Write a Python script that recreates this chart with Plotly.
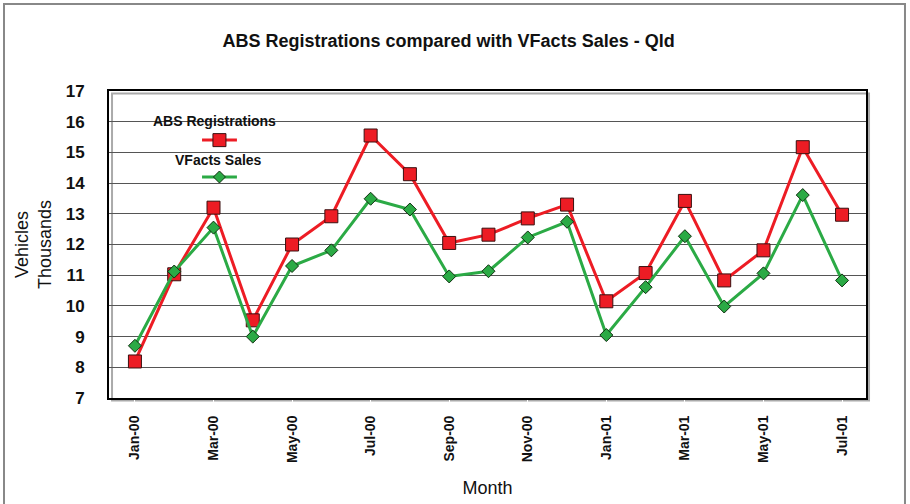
import plotly.graph_objects as go

months = ["Jan-00", "Feb-00", "Mar-00", "Apr-00", "May-00", "Jun-00", "Jul-00", "Aug-00", "Sep-00",
          "Oct-00", "Nov-00", "Dec-00", "Jan-01", "Feb-01", "Mar-01", "Apr-01", "May-01", "Jun-01", "Jul-01"]
abs_reg = [8.19, 11.03, 13.2, 9.53, 12.0, 12.92, 15.55, 14.29, 12.05, 12.32,
           12.85, 13.3, 10.15, 11.07, 13.42, 10.83, 11.81, 15.17, 12.97]
vfacts = [8.70, 11.12, 12.55, 9.0, 11.3, 11.81, 13.49, 13.14, 10.96, 11.13,
          12.23, 12.74, 9.05, 10.61, 12.27, 9.98, 11.06, 13.61, 10.83]
tick_labels = months[::2]
y_ticks = list(range(7, 18))

RED = "#ED1C24"
GREEN = "#2BAA45"
FONT = "Liberation Sans, Arial, sans-serif"

fig = go.Figure()
fig.add_trace(go.Scatter(x=months, y=abs_reg, mode="lines+markers", name="ABS Registrations",
                         line=dict(color=RED, width=3),
                         marker=dict(symbol="square", size=13, color=RED, line=dict(color="#3a1010", width=1))))
fig.add_trace(go.Scatter(x=months, y=vfacts, mode="lines+markers", name="VFacts Sales",
                         line=dict(color=GREEN, width=3),
                         marker=dict(symbol="diamond", size=10, color=GREEN, line=dict(color="#103010", width=1))))

shapes = []
# outer chart frame
shapes.append(dict(type="rect", xref="paper", yref="paper", x0=-0.1387, x1=1.0515, y0=-0.37, y1=1.283,
                   line=dict(color="#888888", width=2), layer="below"))
# plot area shadow
shapes.append(dict(type="rect", xref="paper", yref="paper", x0=0.004, x1=1.004, y0=-0.008, y1=0.992,
                   line=dict(color="#aaaaaa", width=2), layer="below"))
# custom legend
def leg(yc, color, symbol):
    xa, xb, xc = 0.1229, 0.169, 0.1459
    shapes.append(dict(type="line", xref="paper", yref="paper", x0=xa, x1=xb, y0=yc, y1=yc,
                       line=dict(color=color, width=3)))
    if symbol == "square":
        shapes.append(dict(type="rect", xref="paper", yref="paper", xsizemode="pixel", ysizemode="pixel",
                           xanchor=xc, yanchor=yc, x0=-6.5, x1=6.5, y0=-6.5, y1=6.5,
                           fillcolor=color, line=dict(color="#3a1010", width=1)))
    else:
        shapes.append(dict(type="path", xref="paper", yref="paper", xsizemode="pixel", ysizemode="pixel",
                           xanchor=xc, yanchor=yc, path="M 0,-6 L 6,0 L 0,6 L -6,0 Z",
                           fillcolor=color, line=dict(color="#103010", width=1)))
leg(0.840, RED, "square")
leg(0.7199, GREEN, "diamond")

annotations = [
    dict(text="<b>ABS Registrations</b>", xref="paper", yref="paper", x=0.140, y=0.902,
         xanchor="center", yanchor="middle",
         showarrow=False, font=dict(family=FONT, size=14, color="#111")),
    dict(text="<b>VFacts Sales</b>", xref="paper", yref="paper", x=0.144, y=0.775,
         xanchor="center", yanchor="middle",
         showarrow=False, font=dict(family=FONT, size=14, color="#111")),
]

fig.update_layout(
    width=910, height=504,
    margin=dict(l=109, r=44, t=91, b=106, autoexpand=False),
    paper_bgcolor="white", plot_bgcolor="white",
    showlegend=False,
    title=dict(text="<b>ABS Registrations compared with VFacts Sales - Qld</b>", x=0.493, xanchor="center",
               y=0.92, yanchor="middle", font=dict(family=FONT, size=18, color="#111")),
    font=dict(family=FONT, color="#111"),
    shapes=shapes,
    annotations=annotations,
)
fig.update_xaxes(type="category", range=[-0.66, 18.61], tickmode="array", tickvals=tick_labels,
                 ticktext=[f"<b>{t}</b>" for t in tick_labels], tickangle=-90,
                 tickfont=dict(family=FONT, size=14, color="#111"), automargin=False,
                 showgrid=False, showline=True, linecolor="black", linewidth=2, mirror=True,
                 ticks="outside", ticklen=10, tickcolor="white",
                 title=dict(text="Month", font=dict(family=FONT, size=18, color="#111"), standoff=19))
fig.update_yaxes(range=[7, 17], tickvals=y_ticks, ticktext=[f"<b>{v}</b>" for v in y_ticks],
                 tickfont=dict(family=FONT, size=17, color="#111"), automargin=False,
                 showgrid=True, gridcolor="#555555", gridwidth=1.2,
                 showline=True, linecolor="black", linewidth=2, mirror=True, ticks="outside", ticklen=19,
                 tickcolor="white", zeroline=False,
                 title=dict(text="Vehicles<br>Thousands", font=dict(family=FONT, size=18, color="#111"), standoff=9))

fig.write_html("out.html", config={"displayModeBar": False},
               post_script="document.body.style.margin='0';document.body.style.overflow='hidden';")
